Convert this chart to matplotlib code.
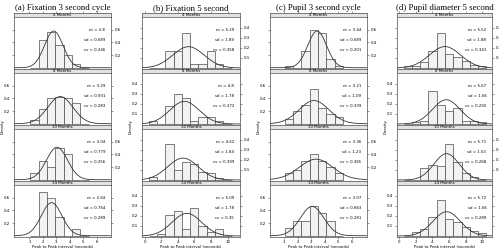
import numpy as np
import matplotlib.pyplot as plt

W, H = 499, 250

titles = ["(a) Fixation 3 second cycle", "(b) Fixation 5 second",
          "(c) Pupil 3 second cycle", "(d) Pupil diameter 5 second"]
months = ["4 Months", "8 Months", "10 Months", "14 Months"]

# bin starts and widths per column
bin_start = [1.05, 0.48, 1.07, 0.52]
bin_width = [0.62, 1.0, 0.61, 1.0]

# densities per column, per month (rows: 4, 8, 10, 14 months)
dens_a = [[0, 0.43, 0.57, 0.36, 0.20, 0.06, 0],
          [0.06, 0.23, 0.40, 0.42, 0.40, 0.32, 0],
          [0.10, 0.30, 0.20, 0.50, 0.40, 0, 0],
          [0, 0.69, 0.59, 0.30, 0, 0.10, 0]]
dens_b = [[0, 0, 0.17, 0.17, 0.35, 0.04, 0.04, 0.17, 0.04, 0],
          [0.03, 0, 0.18, 0.30, 0.26, 0.03, 0.07, 0.07, 0.03, 0],
          [0.03, 0, 0.36, 0.10, 0.18, 0.16, 0.08, 0.07, 0.02, 0],
          [0, 0.02, 0.21, 0.25, 0.07, 0.28, 0.10, 0.035, 0.07, 0]]
dens_c = [[0.03, 0, 0.27, 0.60, 0.55, 0.13, 0.02],
          [0.08, 0.20, 0.30, 0.55, 0.25, 0.15, 0.10],
          [0.10, 0.15, 0.30, 0.40, 0.30, 0.20, 0.10],
          [0.12, 0.23, 0.23, 0.47, 0.36, 0.23, 0]]
dens_d = [[0.02, 0.02, 0.06, 0.17, 0.35, 0.14, 0.11, 0.07, 0.03, 0.02],
          [0, 0.02, 0.03, 0.33, 0.19, 0.13, 0.16, 0.03, 0.03, 0.02],
          [0, 0, 0.12, 0.15, 0.14, 0.36, 0.18, 0.07, 0.03, 0],
          [0, 0.035, 0.07, 0.19, 0.36, 0.165, 0.14, 0.085, 0.05, 0.025]]
densities = [dens_a, dens_b, dens_c, dens_d]

# m, sd, cv
m_vals = [[2.8, 3.29, 3.04, 2.64], [5.29, 4.8, 4.62, 5.09],
          [3.44, 3.21, 3.36, 3.07], [5.52, 5.67, 5.71, 5.72]]
sd_vals = [["0.689", "0.931", "0.779", "0.764"], ["1.89", "1.78", "1.84", "1.78"],
           ["0.689", "1.09", "1.23", "0.863"], ["1.88", "1.66", "1.53", "1.66"]]
cv_vals = [["0.246", "0.283", "0.256", "0.289"], ["0.358", "0.372", "0.399", "0.35"],
           ["0.201", "0.339", "0.365", "0.281"], ["0.341", "0.292", "0.268", "0.289"]]
m_text = [["2.8", "3.29", "3.04", "2.64"], ["5.29", "4.8", "4.62", "5.09"],
          ["3.44", "3.21", "3.36", "3.07"], ["5.52", "5.67", "5.71", "5.72"]]

xlims = [(-0.15, 7.05), (-0.32, 11.5), (-0.02, 7.1), (-0.28, 11.2)]
ylims = [(-0.02, 0.80), (-0.01, 0.505), (-0.02, 0.80), (-0.01, 0.505)]
xticks = [[1, 2, 3, 4, 5, 6], [0, 2, 4, 6, 8, 10], [1, 2, 3, 4, 5, 6], [0, 2, 4, 6, 8, 10]]
yticks = [[0.2, 0.4, 0.6], [0.1, 0.2, 0.3, 0.4], [0.2, 0.4, 0.6], [0.1, 0.2, 0.3, 0.4]]

col_x = [(14, 111), (142, 240), (270, 367), (397, 492)]
strip_y = [(13, 17), (69, 73), (125, 129), (181, 185)]
plot_y = [(17, 69), (73, 125), (129, 181), (185, 237)]


def box(x0, y0, x1, y1):
    return [x0 / W, 1 - y1 / H, (x1 - x0) / W, (y1 - y0) / H]


fig = plt.figure(figsize=(W / 100, H / 100), dpi=100)
edge = "#4d4d4d"
fs = 2.8

for c in range(4):
    x0, x1 = col_x[c]
    fig.text((x0 + x1) / 2 / W, 1 - 8.5 / H, titles[c], ha="center", va="center",
             fontsize=6.3, family="Liberation Serif")
    fig.text((x0 - 11) / W, 1 - 127 / H, "Density", rotation=90, ha="center",
             va="center", fontsize=fs)
    fig.text((x0 + x1) / 2 / W, 1 - 247 / H, "Peak to Peak interval (seconds)",
             ha="center", va="center", fontsize=fs)
    for r in range(4):
        # strip
        sy0, sy1 = strip_y[r]
        sax = fig.add_axes(box(x0, sy0, x1, sy1))
        sax.set_facecolor("#e3e3e3")
        sax.set_xlim(xlims[c])
        sax.set_yticks([])
        sax.text(0.5, 0.45, months[r], transform=sax.transAxes, ha="center",
                 va="center", fontsize=fs)
        if r == 0:
            sax.set_xticks(xticks[c])
            sax.tick_params(axis="x", top=True, bottom=False, labeltop=False,
                            labelbottom=False, length=1.5, width=0.4, color=edge)
        else:
            sax.set_xticks([])
        for s in sax.spines.values():
            s.set_linewidth(0.5)
            s.set_color(edge)

        # panel
        py0, py1 = plot_y[r]
        ax = fig.add_axes(box(x0, py0, x1, py1))
        d = densities[c][r]
        lefts = [bin_start[c] + k * bin_width[c] for k in range(len(d))]
        ax.bar(lefts, d, width=bin_width[c], align="edge", color="#f2f2f2",
               edgecolor=edge, linewidth=0.5)
        xs = np.linspace(xlims[c][0], xlims[c][1], 200)
        mu, sd = m_vals[c][r], float(sd_vals[c][r])
        ax.plot(xs, np.exp(-0.5 * ((xs - mu) / sd) ** 2) / (sd * np.sqrt(2 * np.pi)),
                color="#333333", lw=0.6)
        ax.set_xlim(xlims[c])
        ax.set_ylim(ylims[c])
        ax.text(0.94, 0.75, f"m = {m_text[c][r]}", transform=ax.transAxes,
                ha="right", va="center", fontsize=fs)
        ax.text(0.94, 0.55, f"sd = {sd_vals[c][r]}", transform=ax.transAxes,
                ha="right", va="center", fontsize=fs)
        ax.text(0.94, 0.36, f"cv = {cv_vals[c][r]}", transform=ax.transAxes,
                ha="right", va="center", fontsize=fs)
        ax.set_yticks(yticks[c])
        right = (r % 2 == 0)
        ax.tick_params(axis="y", left=True, right=True, labelleft=not right,
                       labelright=right, length=1.5, width=0.4, color=edge,
                       labelsize=fs, pad=1.5)
        if r == 3:
            ax.set_xticks(xticks[c])
            ax.tick_params(axis="x", length=1.5, width=0.4, color=edge,
                           labelsize=fs, pad=1)
        else:
            ax.set_xticks([])
        for s in ax.spines.values():
            s.set_linewidth(0.5)
            s.set_color(edge)

fig.savefig("out.png", dpi=100)
